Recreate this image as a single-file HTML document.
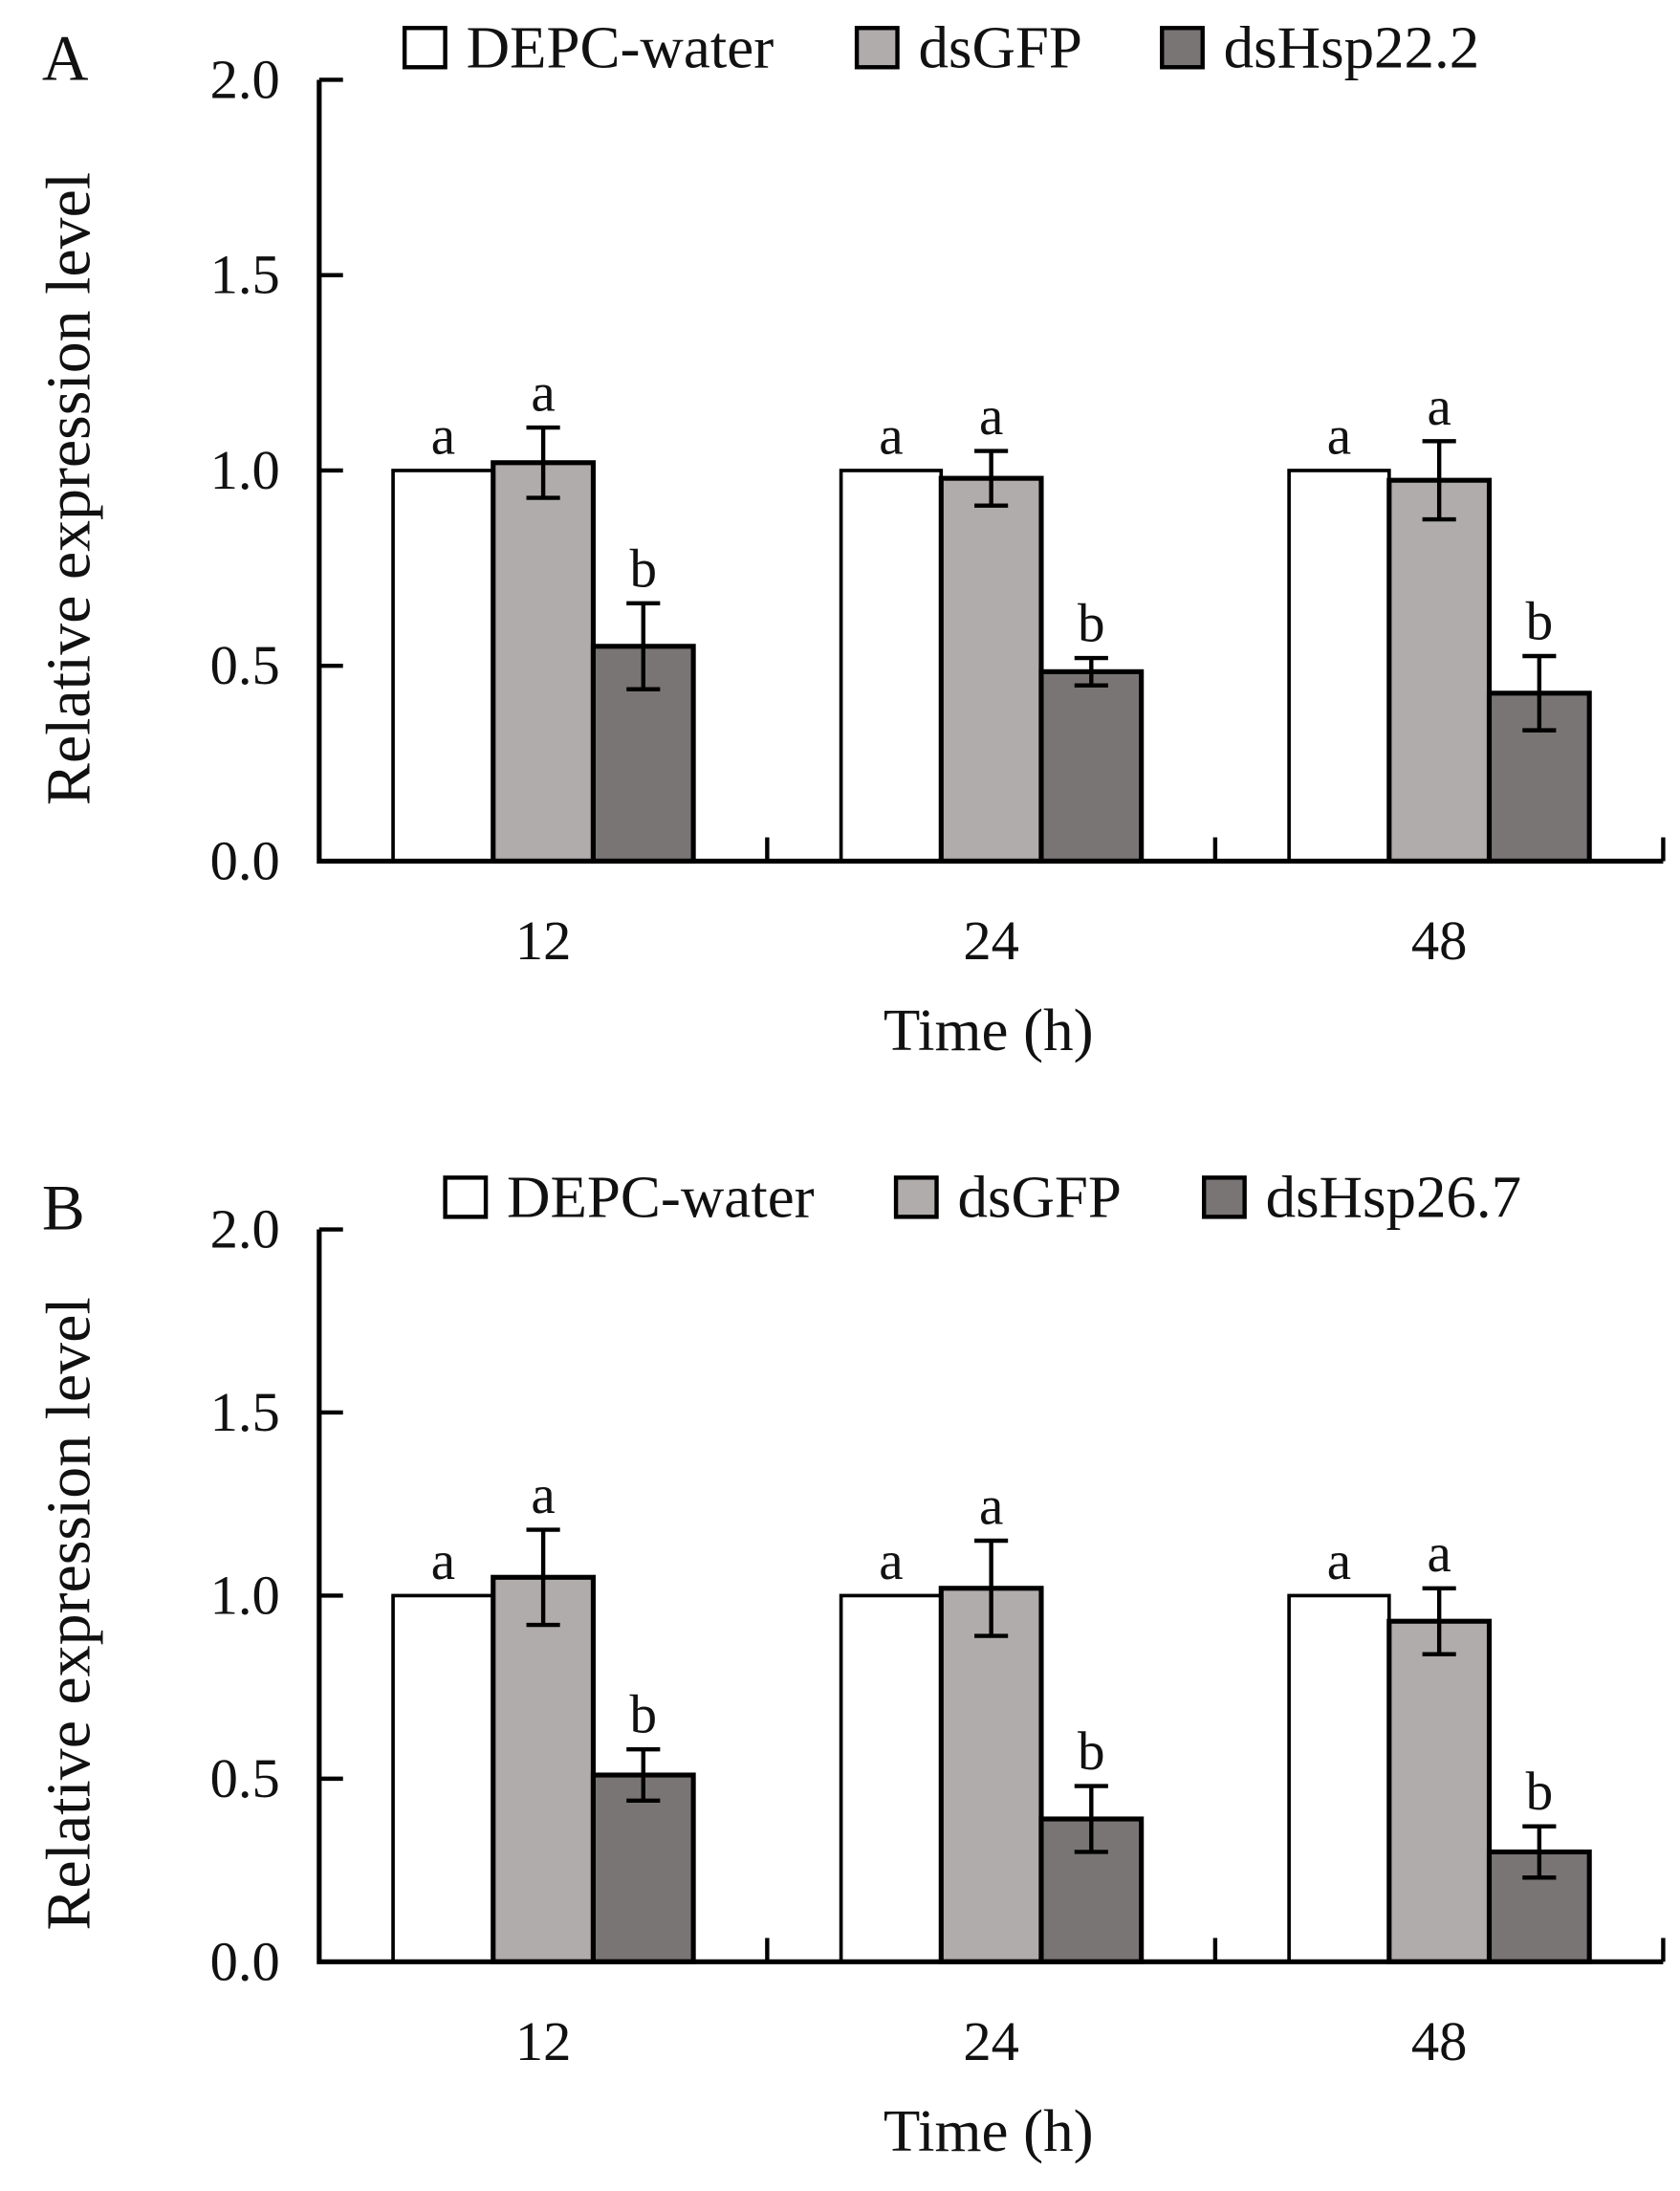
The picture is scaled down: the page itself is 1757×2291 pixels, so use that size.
<!DOCTYPE html>
<html><head><meta charset="utf-8"><style>
html,body{margin:0;padding:0;background:#fff}
svg{display:block}
text{font-family:"Liberation Serif",serif;fill:#111}
</style></head><body>
<svg id="chart" width="1757" height="2291" viewBox="0 0 1200 1564.7" xmlns="http://www.w3.org/2000/svg"></svg>
<script>
const categories = ["12","24","48"];
const seriesNames = ["DEPC-water","dsGFP"];
const darkNamesAB = ["dsHsp22.2","dsHsp26.7"];
const yTicks = [0,0.5,1.0,1.5,2.0];
const tickLabels = ["0.0","0.5","1.0","1.5","2.0"];
const aDepc = [1,1,1];
const aGfp = [1.02,0.98,0.975];
const aGfpErr = [0.09,0.07,0.10];
const aDs = [0.55,0.485,0.43];
const aDsErr = [0.11,0.035,0.095];
const aLetters = [["a","a","b"],["a","a","b"],["a","a","b"]];
const bDepc = [1,1,1];
const bGfp = [1.05,1.02,0.93];
const bGfpErr = [0.13,0.13,0.09];
const bDs = [0.51,0.39,0.30];
const bDsErr = [0.07,0.09,0.07];
const bLetters = [["a","a","b"],["a","a","b"],["a","a","b"]];

const NS="http://www.w3.org/2000/svg";
const svg=document.getElementById('chart');
function mk(tag,attrs,parent,txt){const e=document.createElementNS(NS,tag);for(const k in attrs)e.setAttribute(k,attrs[k]);if(txt!==undefined)e.textContent=txt;(parent||svg).appendChild(e);return e;}
const fills=["#ffffff","#b0acab","#7a7575"];

function panel(cfg){
  const g=mk('g',{},svg);
  
  
  const x0=228,x1=1188,y0=cfg.y0,y2=cfg.y2;
  const yS=v=>y0-(v/2)*(y0-y2);
  const groupW=(x1-x0)/categories.length;
  const barW=71.5;
  const xS=(i,s)=>x0+groupW*i+groupW/2-1.5*barW+s*barW;
  const vals=[cfg.depc,cfg.gfp,cfg.ds];
  const errs=[null,cfg.gfpErr,cfg.dsErr];
  for(let i=0;i<categories.length;i++){
    for(let s=0;s<3;s++){
      const r=mk('rect',{x:xS(i,s),y:yS(vals[s][i]),width:barW,height:yS(0)-yS(vals[s][i]),fill:fills[s],stroke:'#000','stroke-width':s==0?2.5:3.5},g);
      
      
      let top=vals[s][i];
      if(errs[s]){
        const cx=xS(i,s)+barW/2,hi=yS(vals[s][i]+errs[s][i]),lo=yS(vals[s][i]-errs[s][i]);
        const eb=mk('path',{d:`M${cx},${hi}V${lo}M${cx-12},${hi}H${cx+12}M${cx-12},${lo}H${cx+12}`,stroke:'#000','stroke-width':3,fill:'none'},g);
        
        
        top=vals[s][i]+errs[s][i];
      }
      const t=mk('text',{x:xS(i,s)+barW/2,y:yS(top)-12,'text-anchor':'middle','font-size':39},g,cfg.letters[i][s]);
      
      
    }
  }
  const ax=mk('path',{d:`M${x0},${y2}V${y0}H${x1}`,stroke:'#000','stroke-width':3.5,fill:'none'},g);
  
  
  yTicks.forEach((v,k)=>{
    mk('line',{x1:x0,x2:x0+17,y1:yS(v),y2:yS(v),stroke:'#000','stroke-width':3},g);
    const t=mk('text',{x:x0-28,y:yS(v)+13,'text-anchor':'end','font-size':40},g,tickLabels[k]);
    
    
  });
  for(let i=0;i<=categories.length;i++){
    const xx=x0+groupW*i;
    mk('line',{x1:xx,x2:xx,y1:y0,y2:y0-17,stroke:'#000','stroke-width':3},g);
  }
  categories.forEach((c,i)=>{
    const t=mk('text',{x:x0+groupW*i+groupW/2,y:y0+70,'text-anchor':'middle','font-size':40},g,c);
    
    
  });
  let t=mk('text',{x:706,y:y0+135,'text-anchor':'middle','font-size':43},g,'Time (h)');
  
  
  const cy=(y0+y2)/2+13;
  t=mk('text',{x:0,y:0,'text-anchor':'middle','font-size':45,transform:`translate(64,${cy}) rotate(-90)`},g,'Relative expression level');
  
  
  t=mk('text',{x:30,y:cfg.ly+10,'font-size':46},g,cfg.id);
  
  
  const names=[seriesNames[0],seriesNames[1],cfg.dark];
  cfg.lx.forEach((lx,s)=>{
    const r=mk('rect',{x:lx,y:cfg.ly-27,width:29,height:28,fill:fills[s],stroke:'#000','stroke-width':3},g);
    
    
    const tt=mk('text',{x:lx+44,y:cfg.ly+1,'font-size':43},g,names[s]);
    
    
  });
}
panel({id:'A',y0:615,y2:57,depc:aDepc,gfp:aGfp,gfpErr:aGfpErr,ds:aDs,dsErr:aDsErr,letters:aLetters,dark:darkNamesAB[0],lx:[289,612,830],ly:47});
panel({id:'B',y0:1401,y2:878,depc:bDepc,gfp:bGfp,gfpErr:bGfpErr,ds:bDs,dsErr:bDsErr,letters:bLetters,dark:darkNamesAB[1],lx:[318,640,860],ly:868});
</script>
</body></html>
